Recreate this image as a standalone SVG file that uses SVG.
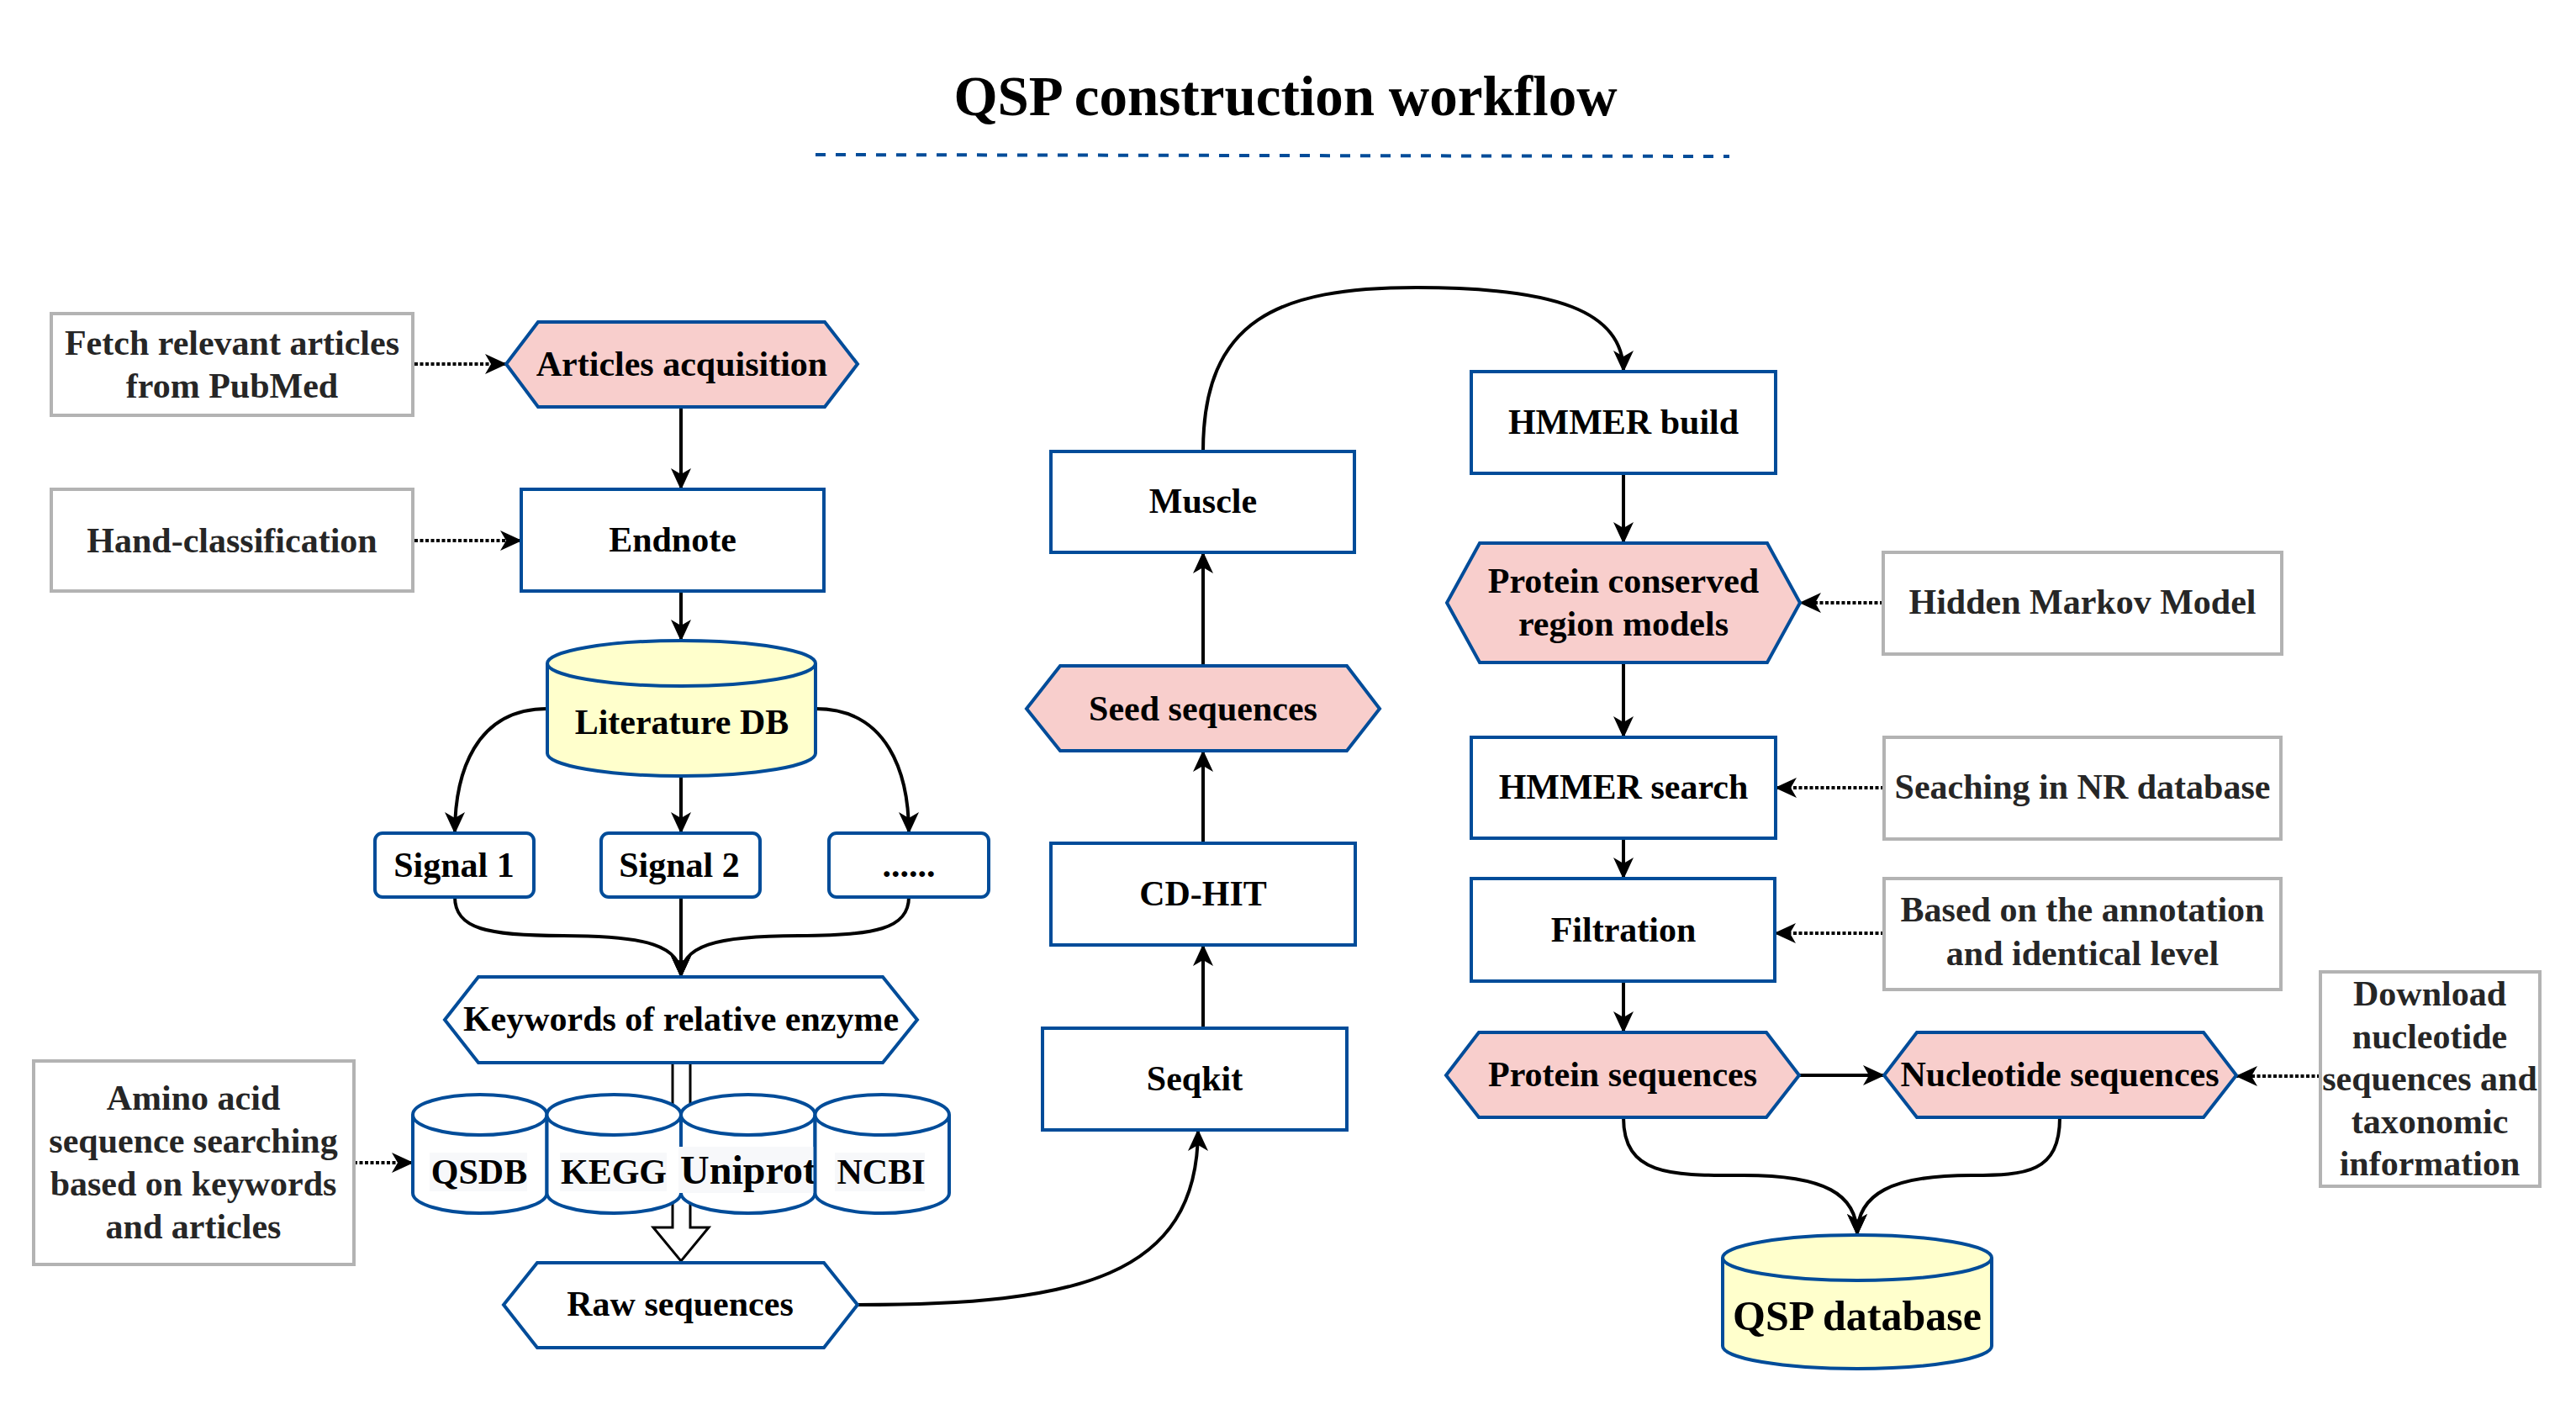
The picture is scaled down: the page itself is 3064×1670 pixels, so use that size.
<svg xmlns="http://www.w3.org/2000/svg" width="3064" height="1670" viewBox="0 0 3064 1670">
<defs>
<style>
.t{font-family:"Liberation Serif","Times New Roman",serif;font-weight:bold;font-size:42px;fill:#000;text-anchor:middle}
.tg{fill:#262626}
.g{fill:#fff;stroke:#B3B3B3;stroke-width:4}
.b{fill:#fff;stroke:#004C99;stroke-width:4}
.p{fill:#F8CECC;stroke:#004C99;stroke-width:4}
.y{fill:#FFFFCC;stroke:#004C99;stroke-width:4}
.bw{fill:#fff;stroke:#004C99;stroke-width:4}
.c{fill:none;stroke:#000;stroke-width:4;marker-end:url(#arr)}
.d{fill:none;stroke:#000;stroke-width:4;stroke-dasharray:4 2.5;marker-end:url(#arr)}
.lb{fill:#F7F8FA;stroke:none}
</style>
<marker id="arr" markerUnits="userSpaceOnUse" markerWidth="26" markerHeight="24" viewBox="0 0 26 24" refX="25" refY="12" orient="auto">
<path d="M0,0 L26,12 L0,24 L7,12 Z" fill="#000" stroke="none"/>
</marker>
</defs>
<rect x="0" y="0" width="3064" height="1670" fill="#fff"/>

<g id="title">
<text class="t" x="1529" y="137" style="font-size:67px">QSP construction workflow</text>
<line x1="970" y1="184" x2="2057" y2="186" stroke="#004C99" stroke-width="4" stroke-dasharray="12 12"/>
</g>

<g id="connectors">
<path class="d" d="M493,433 L602,433"/>
<path class="d" d="M493,643 L620,643"/>
<path class="c" d="M810,484 L810,582"/>
<path class="c" d="M810,703 L810,762"/>
<path class="c" d="M651,843 C565,843 541,920 541,991"/>
<path class="c" d="M810,923 L810,991"/>
<path class="c" d="M970,843 C1056,843 1081,920 1081,991"/>
<path class="c" d="M541,1067 C541,1105 580,1113 670,1113 C770,1113 810,1125 810,1162"/>
<path class="c" d="M810,1067 L810,1162"/>
<path class="c" d="M1081,1067 C1081,1105 1040,1113 950,1113 C850,1113 810,1125 810,1162"/>
<polygon points="800,1264 821,1264 821,1460 843,1460 810,1500 777,1460 800,1460" fill="#fff" stroke="#000" stroke-width="3"/>
<path class="d" d="M421,1383 L491,1383"/>
<path class="c" d="M1020,1552 C1280,1552 1425,1520 1425,1344"/>
<path class="c" d="M1431,1223 L1431,1124"/>
<path class="c" d="M1431,1003 L1431,893"/>
<path class="c" d="M1431,792 L1431,657"/>
<path class="c" d="M1431,537 C1431,380 1520,342 1685,342 C1850,342 1931,370 1931,442"/>
<path class="c" d="M1931,563 L1931,646"/>
<path class="c" d="M1931,788 L1931,877"/>
<path class="d" d="M2240,717 L2141,717"/>
<path class="d" d="M2241,937 L2112,937"/>
<path class="c" d="M1931,997 L1931,1045"/>
<path class="d" d="M2241,1110 L2111,1110"/>
<path class="c" d="M1931,1167 L1931,1228"/>
<path class="c" d="M2140,1279 L2241,1279"/>
<path class="d" d="M2760,1280 L2660,1280"/>
<path class="c" d="M1931,1329 C1931,1400 1990,1398 2074,1398 C2170,1398 2209,1420 2209,1469"/>
<path class="c" d="M2450,1329 C2450,1395 2410,1398 2345,1398 C2250,1398 2209,1420 2209,1469"/>
</g>

<g id="fetch">
<rect class="g" x="61" y="373" width="430" height="121"/>
<text class="t tg" x="276" y="422">Fetch relevant articles</text>
<text class="t tg" x="276" y="473">from PubMed</text>
</g>
<g id="articles">
<polygon class="p" points="640,383 981,383 1020,433 981,484 640,484 602,433"/>
<text class="t" x="811" y="447">Articles acquisition</text>
</g>
<g id="hand">
<rect class="g" x="61" y="582" width="430" height="121"/>
<text class="t tg" x="276" y="657">Hand-classification</text>
</g>
<g id="endnote">
<rect class="b" x="620" y="582" width="360" height="121"/>
<text class="t" x="800" y="656">Endnote</text>
</g>
<g id="literature">
<path class="y" d="M651,789 A159.5,27 0 0 1 970,789 L970,896 A159.5,27 0 0 1 651,896 Z"/>
<path class="y" d="M651,789 A159.5,27 0 0 0 970,789" fill="none"/>
<text class="t" x="811" y="873">Literature DB</text>
</g>
<g id="signal1">
<rect class="b" x="446" y="991" width="189" height="76" rx="9"/>
<text class="t" x="540" y="1043">Signal 1</text>
</g>
<g id="signal2">
<rect class="b" x="715" y="991" width="189" height="76" rx="9"/>
<text class="t" x="808" y="1043">Signal 2</text>
</g>
<g id="signal3">
<rect class="b" x="986" y="991" width="190" height="76" rx="9"/>
<text class="t" x="1081" y="1043">......</text>
</g>
<g id="keywords">
<polygon class="b" points="569,1162 1050,1162 1091,1213 1050,1264 569,1264 529,1213"/>
<text class="t" x="810" y="1226">Keywords of relative enzyme</text>
</g>
<g id="qsdb">
<path class="bw" d="M491,1326 A79.75,24 0 0 1 650.5,1326 L650.5,1419 A79.75,24 0 0 1 491,1419 Z"/>
<path class="bw" d="M491,1326 A79.75,24 0 0 0 650.5,1326" fill="none"/>
<rect class="lb" x="511" y="1371" width="116" height="46"/>
<text class="t" x="570" y="1408">QSDB</text>
</g>
<g id="kegg">
<path class="bw" d="M650.5,1326 A79.75,24 0 0 1 810,1326 L810,1419 A79.75,24 0 0 1 650.5,1419 Z"/>
<path class="bw" d="M650.5,1326 A79.75,24 0 0 0 810,1326" fill="none"/>
<rect class="lb" x="666" y="1371" width="127" height="46"/>
<text class="t" x="730" y="1408">KEGG</text>
</g>
<g id="uniprot">
<path class="bw" d="M810,1326 A79.75,24 0 0 1 969.5,1326 L969.5,1419 A79.75,24 0 0 1 810,1419 Z"/>
<path class="bw" d="M810,1326 A79.75,24 0 0 0 969.5,1326" fill="none"/>
<rect class="lb" x="807" y="1364" width="168" height="55"/>
<text class="t" x="890" y="1408" style="font-size:48px">Uniprot</text>
</g>
<g id="ncbi">
<path class="bw" d="M969.5,1326 A79.75,24 0 0 1 1129,1326 L1129,1419 A79.75,24 0 0 1 969.5,1419 Z"/>
<path class="bw" d="M969.5,1326 A79.75,24 0 0 0 1129,1326" fill="none"/>
<rect class="lb" x="993" y="1371" width="107" height="46"/>
<text class="t" x="1048" y="1408">NCBI</text>
</g>
<g id="amino">
<rect class="g" x="40" y="1262" width="381" height="242"/>
<text class="t tg" x="230" y="1320">Amino acid</text>
<text class="t tg" x="230" y="1371">sequence searching</text>
<text class="t tg" x="230" y="1422">based on keywords</text>
<text class="t tg" x="230" y="1473">and articles</text>
</g>
<g id="raw">
<polygon class="b" points="639,1502 980,1502 1020,1552 980,1603 639,1603 599,1552"/>
<text class="t" x="809" y="1565">Raw sequences</text>
</g>
<g id="seqkit">
<rect class="b" x="1240" y="1223" width="362" height="121"/>
<text class="t" x="1421" y="1297">Seqkit</text>
</g>
<g id="cdhit">
<rect class="b" x="1250" y="1003" width="362" height="121"/>
<text class="t" x="1431" y="1077">CD-HIT</text>
</g>
<g id="seed">
<polygon class="p" points="1261,792 1602,792 1641,843 1602,893 1261,893 1221,843"/>
<text class="t" x="1431" y="857">Seed sequences</text>
</g>
<g id="muscle">
<rect class="b" x="1250" y="537" width="361" height="120"/>
<text class="t" x="1431" y="610">Muscle</text>
</g>
<g id="hmmerbuild">
<rect class="b" x="1750" y="442" width="362" height="121"/>
<text class="t" x="1931" y="516">HMMER build</text>
</g>
<g id="conserved">
<polygon class="p" points="1760,646 2102,646 2141,717 2102,788 1760,788 1721,717"/>
<text class="t" x="1931" y="705">Protein conserved</text>
<text class="t" x="1931" y="756">region models</text>
</g>
<g id="hmm">
<rect class="g" x="2240" y="657" width="474" height="121"/>
<text class="t tg" x="2477" y="730">Hidden Markov Model</text>
</g>
<g id="hmmersearch">
<rect class="b" x="1750" y="877" width="362" height="120"/>
<text class="t" x="1931" y="950">HMMER search</text>
</g>
<g id="seaching">
<rect class="g" x="2241" y="877" width="472" height="121"/>
<text class="t tg" x="2477" y="950">Seaching in NR database</text>
</g>
<g id="filtration">
<rect class="b" x="1750" y="1045" width="361" height="122"/>
<text class="t" x="1931" y="1120">Filtration</text>
</g>
<g id="based">
<rect class="g" x="2241" y="1045" width="472" height="132"/>
<text class="t tg" x="2477" y="1096">Based on the annotation</text>
<text class="t tg" x="2477" y="1148">and identical level</text>
</g>
<g id="protein">
<polygon class="p" points="1759,1228 2101,1228 2140,1279 2101,1329 1759,1329 1720,1279"/>
<text class="t" x="1930" y="1292">Protein sequences</text>
</g>
<g id="nucleotide">
<polygon class="p" points="2280,1228 2621,1228 2660,1279 2621,1329 2280,1329 2241,1279"/>
<text class="t" x="2450" y="1292">Nucleotide sequences</text>
</g>
<g id="download">
<rect class="g" x="2760" y="1156" width="261" height="255"/>
<text class="t tg" x="2890" y="1196">Download</text>
<text class="t tg" x="2890" y="1247">nucleotide</text>
<text class="t tg" x="2890" y="1297">sequences and</text>
<text class="t tg" x="2890" y="1348">taxonomic</text>
<text class="t tg" x="2890" y="1398">information</text>
</g>
<g id="qspdb">
<path class="y" d="M2049,1496 A160,27 0 0 1 2369,1496 L2369,1601 A160,27 0 0 1 2049,1601 Z"/>
<path class="y" d="M2049,1496 A160,27 0 0 0 2369,1496" fill="none"/>
<text class="t" x="2209" y="1582" style="font-size:50px">QSP database</text>
</g>
</svg>
